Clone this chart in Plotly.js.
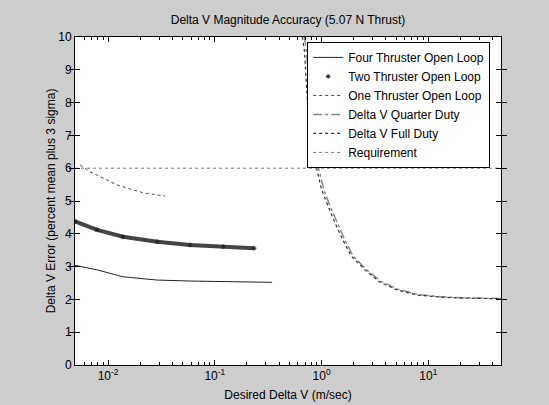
<!DOCTYPE html>
<html>
<head>
<meta charset="utf-8">
<script src="https://cdn.plot.ly/plotly-3.0.1.min.js"></script>
<style>
  html, body { margin: 0; padding: 0; background: #cdcdcd; }
  #chart { width: 549px; height: 405px; }
</style>
</head>
<body>
<div id="chart"></div>
<script>
// Four Thruster Open Loop
const fourX = [0.0049, 0.0079, 0.0138, 0.0288, 0.0587, 0.120, 0.344];
const fourY = [3.04, 2.90, 2.69, 2.59, 2.56, 2.54, 2.52];

// Two Thruster Open Loop
const twoX = [0.0049, 0.0079, 0.0138, 0.0288, 0.0587, 0.120, 0.233];
const twoY = [4.38, 4.12, 3.91, 3.76, 3.66, 3.61, 3.56];

// One Thruster Open Loop
const oneX = [0.00547, 0.00678, 0.00898, 0.0121, 0.0161, 0.0213, 0.0342];
const oneY = [6.10, 5.89, 5.70, 5.49, 5.37, 5.25, 5.15];

// Delta V Quarter Duty
const quarterX = [0.69, 0.72, 0.76, 0.81, 0.93, 1.05, 1.20, 1.39, 1.65, 1.98, 2.65, 3.6, 5.2, 8.0, 13.0, 21.0, 48.0];
const quarterY = [10.0, 9.6, 8.6, 6.9, 6.05, 5.35, 4.85, 4.35, 3.82, 3.32, 2.90, 2.55, 2.31, 2.15, 2.08, 2.05, 2.03];

// Delta V Full Duty
const fullX = [0.66, 0.69, 0.72, 0.77, 0.89, 1.00, 1.15, 1.33, 1.58, 1.90, 2.55, 3.5, 5.1, 7.9, 12.9, 21.0, 48.0];
const fullY = [10.0, 9.6, 8.6, 6.9, 6.05, 5.35, 4.85, 4.35, 3.82, 3.32, 2.90, 2.53, 2.29, 2.13, 2.07, 2.04, 2.02];

// Requirement
const reqX = [0.0049, 48.0];
const reqY = [6.0, 6.0];

// Tick labels
const xTickVals = [0.01, 0.1, 1, 10];
const xTickText = ['10<sup>-2</sup>', '10<sup>-1</sup>', '10<sup>0</sup>', '10<sup>1</sup>'];
const xMinorTicks = [0.005, 0.006, 0.007, 0.008, 0.009,
                     0.02, 0.03, 0.04, 0.05, 0.06, 0.07, 0.08, 0.09,
                     0.2, 0.3, 0.4, 0.5, 0.6, 0.7, 0.8, 0.9,
                     2, 3, 4, 5, 6, 7, 8, 9,
                     20, 30, 40];

const FONT = '"Liberation Sans", Arial, Helvetica, sans-serif';
const X_RANGE = [Math.log10(0.0049), Math.log10(48)];

const traces = [
  { x: fourX, y: fourY, mode: 'lines', name: 'Four Thruster Open Loop',
    line: { color: '#222', width: 1 } },
  { x: twoX, y: twoY, mode: 'lines', name: 'Two Thruster Open Loop', showlegend: false,
    line: { color: '#444', width: 4 }, hoverinfo: 'skip' },
  { x: twoX, y: twoY, mode: 'markers', name: 'Two Thruster Open Loop',
    marker: { color: '#222', size: 4, symbol: 'asterisk-open', line: { color: '#222', width: 1 } } },
  { x: oneX, y: oneY, mode: 'lines', name: 'One Thruster Open Loop',
    line: { color: '#444', width: 1, dash: '3px,3px' } },
  { x: quarterX, y: quarterY, mode: 'lines', name: 'Delta V Quarter Duty',
    line: { color: '#888', width: 1.5, dash: 'dashdot' } },
  { x: fullX, y: fullY, mode: 'lines', name: 'Delta V Full Duty',
    line: { color: '#333', width: 1.2, dash: 'dot' } },
  { x: reqX, y: reqY, mode: 'lines', name: 'Requirement',
    line: { color: '#777', width: 1, dash: 'dot' } },
  // invisible carrier for the minor-tick axis
  { x: reqX, y: reqY, xaxis: 'x2', mode: 'lines', showlegend: false, hoverinfo: 'skip',
    line: { color: 'rgba(0,0,0,0)', width: 0 } }
];

const layout = {
  width: 549, height: 405,
  margin: { l: 75, r: 48, t: 37, b: 40 },
  paper_bgcolor: '#cdcdcd',
  plot_bgcolor: '#ffffff',
  font: { family: FONT, size: 12, color: '#000' },
  title: {
    text: 'Delta V Magnitude Accuracy (5.07 N Thrust)',
    font: { family: FONT, size: 12, color: '#000' },
    x: 0.5, xref: 'paper', y: 0.95, yref: 'container', yanchor: 'middle'
  },
  xaxis: {
    type: 'log',
    range: X_RANGE,
    tickmode: 'array', tickvals: xTickVals, ticktext: xTickText,
    ticks: 'inside', ticklen: 5, tickcolor: '#000',
    showline: true, linecolor: '#000', linewidth: 1, mirror: 'allticks',
    showgrid: false, zeroline: false,
    tickfont: { family: FONT, size: 12 },
    automargin: false,
    title: { text: 'Desired Delta V (m/sec)', font: { family: FONT, size: 12 }, standoff: 8 }
  },
  xaxis2: {
    type: 'log', overlaying: 'x', anchor: 'y', side: 'bottom',
    range: X_RANGE,
    tickmode: 'array', tickvals: xMinorTicks, showticklabels: false,
    ticks: 'inside', ticklen: 3, tickcolor: '#000',
    showline: true, linecolor: '#000', linewidth: 1, mirror: 'ticks',
    showgrid: false, zeroline: false, automargin: false
  },
  yaxis: {
    range: [0, 10], dtick: 1, tick0: 0,
    ticks: 'inside', ticklen: 5, tickcolor: '#000',
    showline: true, linecolor: '#000', linewidth: 1, mirror: 'allticks',
    showgrid: false, zeroline: false,
    tickfont: { family: FONT, size: 12 },
    automargin: false,
    title: { text: 'Delta V Error (percent mean plus 3 sigma)', font: { family: FONT, size: 12 }, standoff: 0 }
  },
  legend: {
    x: 0.545, y: 0.985, xanchor: 'left', yanchor: 'top',
    bgcolor: '#ffffff', bordercolor: '#000', borderwidth: 1,
    font: { family: FONT, size: 12 },
    tracegroupgap: 0
  },
  showlegend: true
};

Plotly.newPlot('chart', traces, layout, { displayModeBar: false, staticPlot: true });
</script>
</body>
</html>
